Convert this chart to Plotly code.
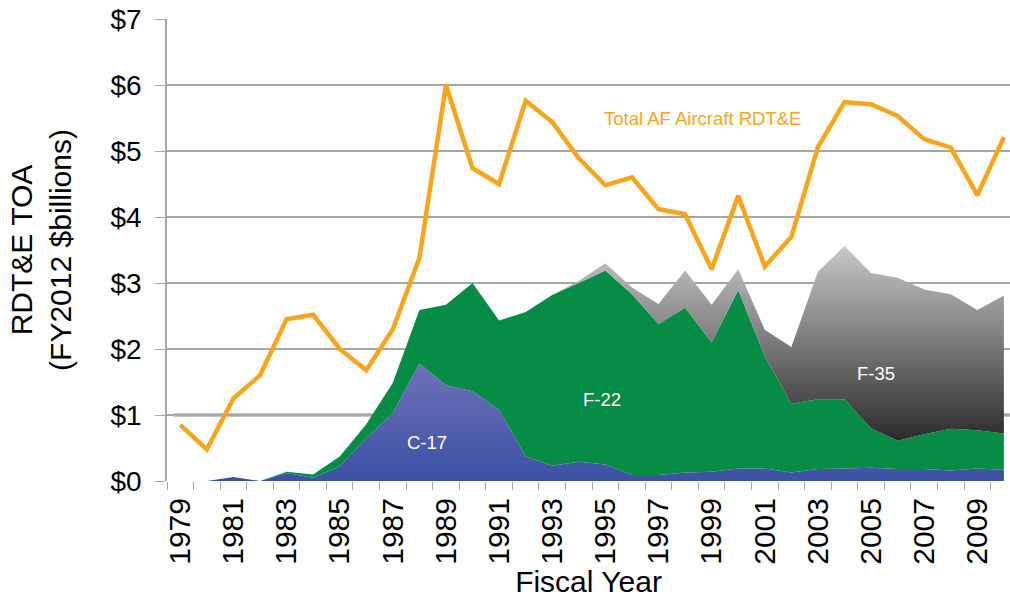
import plotly.graph_objects as go

years = list(range(1979, 2011))

c17 = [0, 0, 0.06, 0, 0.12, 0.05, 0.22, 0.65, 1.03, 1.78, 1.45, 1.36, 1.08, 0.37, 0.23, 0.29,
       0.25, 0.09, 0.09, 0.13, 0.14, 0.19, 0.19, 0.13, 0.18, 0.19, 0.20, 0.18, 0.18, 0.16, 0.19, 0.17]
f22 = [0, 0, 0, 0, 0.02, 0.05, 0.15, 0.21, 0.46, 0.81, 1.22, 1.64, 1.35, 2.19, 2.59, 2.71,
       2.94, 2.74, 2.29, 2.50, 1.96, 2.70, 1.70, 1.04, 1.06, 1.05, 0.60, 0.43, 0.53, 0.63, 0.58, 0.55]
f35 = [0, 0, 0, 0, 0, 0, 0, 0, 0, 0, 0, 0, 0, 0, 0, 0.03,
       0.11, 0.10, 0.30, 0.56, 0.57, 0.32, 0.40, 0.86, 1.93, 2.32, 2.35, 2.47, 2.19, 2.04, 1.82, 2.09]
total = [0.85, 0.48, 1.25, 1.60, 2.45, 2.52, 2.00, 1.68, 2.30, 3.38, 6.00, 4.74, 4.50, 5.76, 5.44, 4.89,
         4.48, 4.60, 4.12, 4.04, 3.21, 4.32, 3.25, 3.70, 5.06, 5.74, 5.71, 5.53, 5.18, 5.05, 4.33, 5.21]

year_ticks = list(range(1979, 2011, 2))
y_ticks = list(range(0, 8))
y_tick_text = ["$%d" % v for v in y_ticks]

FONT = "Liberation Sans, Arial, sans-serif"
GRID = "#A6A6A6"

fig = go.Figure()

fig.add_trace(go.Scatter(
    x=years, y=c17, name="C-17", stackgroup="one", mode="none",
    fillgradient=dict(type="vertical", start=0, stop=1.8,
                      colorscale=[[0, "#3A52A3"], [1, "#7070B8"]]),
))
fig.add_trace(go.Scatter(
    x=years, y=f22, name="F-22", stackgroup="one", mode="none",
    fillcolor="#078C45",
))
fig.add_trace(go.Scatter(
    x=years, y=f35, name="F-35", stackgroup="one", mode="none",
    fillgradient=dict(type="vertical", start=0.6, stop=3.6,
                      colorscale=[[0, "#2A2A2A"], [1, "#CACACA"]]),
))
fig.add_trace(go.Scatter(
    x=years, y=total, name="Total AF Aircraft RDT&E", mode="lines",
    line=dict(color="#F8A51C", width=4.5),
))

# darker $1 reference line
fig.add_shape(type="line", xref="x", yref="y", x0=1978.75, x1=2010.3, y0=1, y1=1,
              line=dict(color="#8C8C8C", width=3), layer="below")

labels = [
    ("C-17", 1988.3, 0.58, "white", 18.5),
    ("F-22", 1994.87, 1.23, "white", 18.5),
    ("F-35", 2005.2, 1.63, "white", 18.5),
    ("Total AF Aircraft RDT&E", 1998.67, 5.49, "#F8A51C", 18.5),
]
for text, x, y, color, size in labels:
    fig.add_annotation(x=x, y=y, text=text, showarrow=False,
                       font=dict(family=FONT, size=size, color=color))

fig.update_layout(
    width=1010, height=603,
    margin=dict(l=167, r=0, t=19, b=122),
    paper_bgcolor="white", plot_bgcolor="white",
    showlegend=False,
    font=dict(family=FONT, color="black"),
    xaxis=dict(
        range=[1978.5, 2010.23],
        tickvals=year_ticks, ticktext=[str(y) for y in year_ticks],
        tickangle=-90, tickfont=dict(size=30), ticks="", ticklabelstandoff=10,
        showgrid=False, zeroline=False, showline=False,
        minor=dict(tick0=1978.5, dtick=1, ticks="outside", ticklen=8,
                   tickcolor=GRID, tickwidth=1, showgrid=False),
        title=dict(text="Fiscal Year", font=dict(size=30), standoff=6),
    ),
    yaxis=dict(
        range=[0, 7], tickvals=y_ticks, ticktext=y_tick_text,
        tickfont=dict(size=28), ticks="outside", ticklen=10, tickcolor=GRID,
        ticklabelstandoff=8,
        showgrid=True, gridcolor=GRID, gridwidth=1.5,
        showline=True, linecolor=GRID, linewidth=1.5, zeroline=False,
        title=dict(text="RDT&E TOA<br>(FY2012 $billions)", font=dict(size=30), standoff=30),
    ),
)

# drop the default 8px body margin so the figure fills the window exactly
fig.write_html("out.html", config={"displayModeBar": False},
               post_script="document.body.style.margin = '0';")
